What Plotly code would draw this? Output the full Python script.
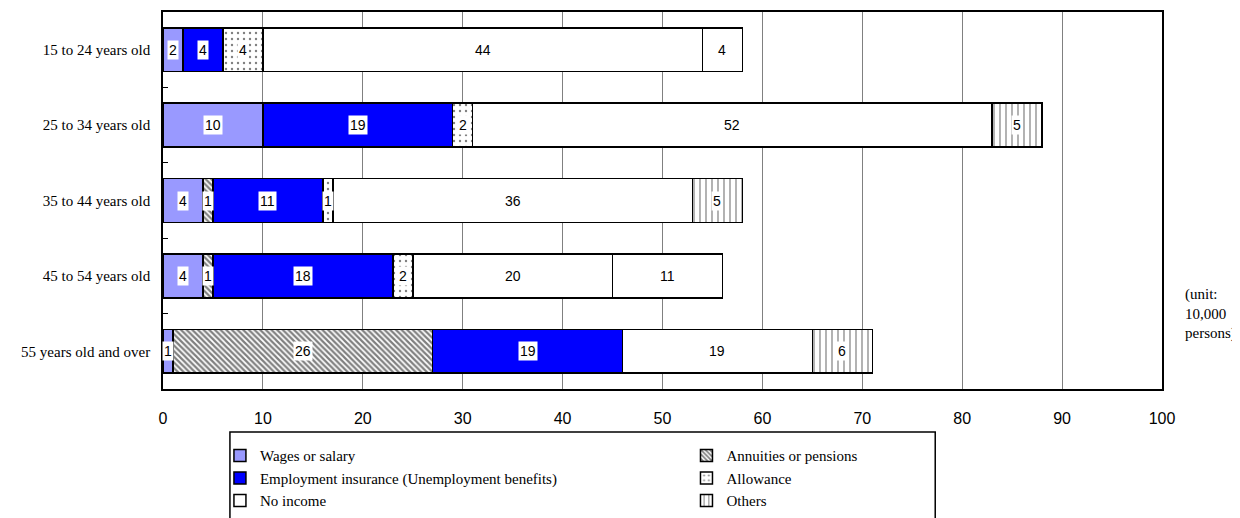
import plotly.graph_objects as go

categories = ["15 to 24 years old", "25 to 34 years old", "35 to 44 years old",
              "45 to 54 years old", "55 years old and over"]
series_names = ["Wages or salary", "Annuities or pensions",
                "Employment insurance (Unemployment benefits)", "Allowance",
                "No income", "Others"]
wages = [2, 10, 4, 4, 1]
annuities = [0, 0, 1, 1, 26]
employment = [4, 19, 11, 18, 19]
allowance = [4, 2, 1, 2, 0]
no_income = [44, 52, 36, 20, 19]
others = [4, 5, 5, 11, 6]
x_ticks = [0, 10, 20, 30, 40, 50, 60, 70, 80, 90, 100]

series_values = [wages, annuities, employment, allowance, no_income, others]
colors = ["#9999ff", "white", "#0000ff", "white", "white", "white"]
others_shapes = ["", "|", "|", "", "|"]
patterns = [
    dict(shape=""),
    dict(shape="\\", fgcolor="black", bgcolor="white", size=4, solidity=0.55),
    dict(shape=""),
    dict(shape=".", fgcolor="black", bgcolor="white", size=6, solidity=0.12),
    dict(shape=""),
    dict(shape=others_shapes, fgcolor="black", bgcolor="white", size=6, solidity=0.2),
]
legend_ids = ["legend", "legend2", "legend", "legend2", "legend", "legend2"]

SANS = "Liberation Sans, Arial, sans-serif"
SERIF = "Liberation Serif, Times New Roman, serif"

fig = go.Figure()
for k, (name, vals, col, pat, lg) in enumerate(zip(series_names, series_values, colors, patterns, legend_ids)):
    ys, xs = list(categories), list(vals)
    if isinstance(pat["shape"], list):
        # list the points from the bottom so the legend swatch takes the patterned style
        ys, xs = ys[::-1], xs[::-1]
        pat = dict(pat, shape=pat["shape"][::-1])
    fig.add_trace(go.Bar(
        y=ys, x=xs, name=name, orientation="h",
        marker=dict(color=col, line=dict(color="black", width=1.5), pattern=pat),
        width=0.58, hoverinfo="x+y+name", legend=lg,
    ))

annotations = []
cum = [0] * len(categories)
for vals in series_values:
    for i, v in enumerate(vals):
        if v > 0:
            annotations.append(dict(
                x=cum[i] + v / 2, y=categories[i], xref="x", yref="y",
                text=str(v), showarrow=False, bgcolor="white", borderpad=1,
                font=dict(family=SANS, size=14, color="black"),
            ))
        cum[i] += v

annotations.append(dict(
    x=1.021, y=0.2, xref="paper", yref="paper", xanchor="left", yanchor="middle",
    text="(unit:<br>10,000<br>persons)", align="left", showarrow=False,
    font=dict(family=SERIF, size=15, color="black"),
))

legend_common = dict(
    orientation="v", yanchor="top", xanchor="left", traceorder="normal",
    font=dict(family=SERIF, size=15, color="black"),
    bgcolor="rgba(0,0,0,0)", tracegroupgap=0,
)

fig.update_layout(
    width=1240, height=518,
    margin=dict(l=155, r=86, t=4, b=137, autoexpand=False),
    barmode="stack",
    plot_bgcolor="white", paper_bgcolor="white",
    annotations=annotations,
    showlegend=True,
    legend=dict(x=0.057, y=-0.133, **legend_common),
    legend2=dict(x=0.524, y=-0.133, **legend_common),
    shapes=[dict(type="rect", xref="paper", yref="paper",
                 x0=0.067, x1=0.773, y0=-0.114, y1=-0.40,
                 line=dict(color="black", width=1.5))],
    xaxis=dict(
        range=[0, 100], tickvals=x_ticks, showgrid=True, gridcolor="#808080",
        gridwidth=1, showline=True, linecolor="black", linewidth=1.5, mirror=True,
        ticks="", ticklabelstandoff=14, zeroline=False,
        tickfont=dict(family=SANS, size=16, color="black"),
    ),
    yaxis=dict(
        autorange="reversed", showline=True, linecolor="black", linewidth=1.5,
        mirror=True, ticks="inside", ticklen=5, tickson="boundaries",
        tickcolor="black", showgrid=False, ticklabelstandoff=8,
        categoryorder="array", categoryarray=categories,
        tickfont=dict(family=SERIF, size=15, color="black"),
    ),
)

fig.write_html("out.html")
